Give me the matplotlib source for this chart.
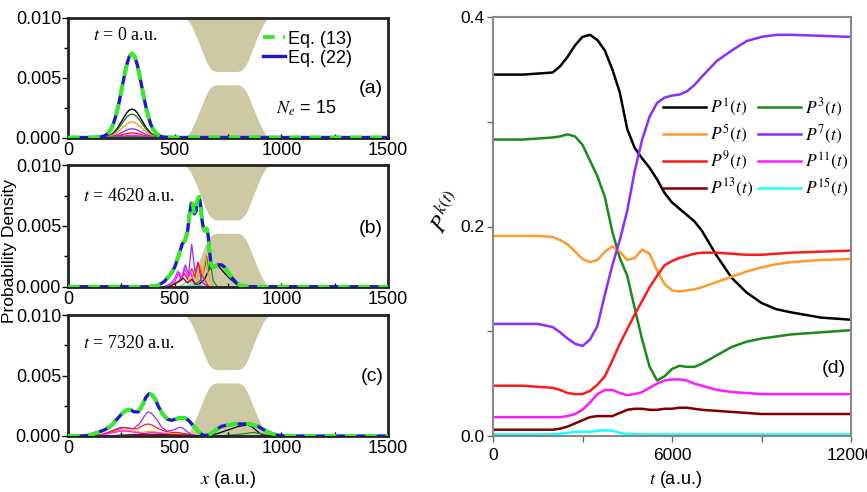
import matplotlib
matplotlib.use('Agg')
import matplotlib.pyplot as plt
from matplotlib.ticker import FixedLocator
import numpy as np

plt.rcParams['font.family'] = ['Liberation Sans', 'DejaVu Sans']
plt.rcParams['mathtext.fontset'] = 'stix'

# ---------------- data ----------------
# channel walls drawn in the density panels (distance from centre, fraction of wall)
wall_center = 745
wall_d = [0, 10, 20, 30, 40, 50, 60, 70, 80, 90, 100, 110, 120, 130, 140, 150, 160, 170, 180, 190, 200]
wall_frac = [1, 1, 1, 1, 1, 1, 0.99, 0.97, 0.93, 0.87, 0.79, 0.69, 0.59, 0.49, 0.39, 0.30, 0.21, 0.13, 0.07, 0.03, 0]
wall_top = 0.0055
wall_bot = 0.0044

# (a) t = 0 : total density and peak of each k component
a_x = [0, 120, 150, 162.5, 175, 187.5, 200, 212.5, 225, 237.5, 250, 262.5, 275, 287.5, 300,
       312.5, 325, 337.5, 350, 362.5, 375, 387.5, 400, 412.5, 425, 437.5, 450, 480, 1500]
a_y = [0, 0, 0.00004, 0.00008, 0.00018, 0.00036, 0.00066, 0.00112, 0.00185, 0.00276, 0.00388,
       0.00500, 0.00604, 0.00676, 0.00700, 0.00676, 0.00604, 0.00500, 0.00388, 0.00276, 0.00185,
       0.00112, 0.00066, 0.00036, 0.00018, 0.00008, 0.00004, 0, 0]
a_comp_peak = [0.00237, 0.00195, 0.00130, 0.00072, 0.00038, 0.00018, 0.00006, 0.00001]

# (b) t = 4620
b_x = [0, 380, 420, 450, 480, 500, 520, 535, 548, 560, 570, 578, 585, 592, 600, 608, 615, 621, 628,
       635, 642, 650, 657, 663, 670, 678, 690, 705, 720, 735, 750, 770, 790, 810, 830, 850, 1500]
b_y = [0, 0, 0.0001, 0.0004, 0.0010, 0.0016, 0.0026, 0.0035, 0.0038, 0.0045, 0.0060, 0.0069, 0.0068,
       0.0060, 0.0062, 0.0072, 0.0074, 0.0068, 0.0055, 0.0048, 0.0046, 0.0048, 0.0042, 0.0030, 0.0019,
       0.0016, 0.0017, 0.0018, 0.0018, 0.0016, 0.0012, 0.0007, 0.0003, 0.0001, 0.00003, 0, 0]
b_comp_x = [
    [600, 640, 660, 680, 700, 720, 750, 790, 830],
    [580, 620, 640, 650, 660, 668, 680, 700],
    [520, 560, 590, 605, 620, 632, 645, 655, 665, 680],
    [450, 500, 520, 535, 550, 565, 580, 595, 610, 625, 640, 660],
    [480, 520, 545, 560, 580, 595, 610, 625, 640, 660],
    [470, 500, 515, 530, 545, 560, 575, 590, 610, 630],
    [470, 520, 540, 560, 580, 600, 620],
    [500, 560, 600, 640],
]
b_comp_y = [
    [0, 0.0006, 0.0014, 0.0017, 0.0018, 0.0014, 0.0008, 0.0002, 0],
    [0, 0.0005, 0.0015, 0.0025, 0.0013, 0.0020, 0.0005, 0],
    [0, 0.0004, 0.0010, 0.0005, 0.0018, 0.0010, 0.0027, 0.0012, 0.0006, 0],
    [0, 0.0004, 0.0012, 0.0006, 0.0018, 0.0010, 0.0035, 0.0012, 0.0020, 0.0005, 0.0002, 0],
    [0, 0.0005, 0.0011, 0.0006, 0.0015, 0.0008, 0.0020, 0.0010, 0.0006, 0],
    [0, 0.0007, 0.0013, 0.0005, 0.0016, 0.0008, 0.0012, 0.0003, 0.0002, 0],
    [0, 0.0004, 0.0007, 0.0003, 0.0006, 0.0002, 0],
    [0, 0.0001, 0.0001, 0],
]

# (c) t = 7320
c_x = [0, 60, 100, 140, 170, 200, 225, 250, 270, 290, 310, 330, 350, 365, 380, 395, 410, 425, 445,
       465, 485, 505, 525, 545, 565, 585, 600, 615, 630, 645, 660, 680, 700, 720, 745, 770, 800, 825,
       850, 870, 890, 910, 930, 955, 980, 1010, 1050, 1500]
c_y = [0, 0, 0.00005, 0.0003, 0.0005, 0.0008, 0.0013, 0.0018, 0.0021, 0.0022, 0.0020, 0.0020, 0.0026,
       0.0032, 0.0035, 0.0034, 0.0030, 0.0024, 0.0018, 0.0014, 0.0013, 0.0014, 0.0015, 0.0015, 0.0013,
       0.0009, 0.0006, 0.0003, 0.0001, 0.00003, 0.0001, 0.0003, 0.0006, 0.0008, 0.0009, 0.00095,
       0.0010, 0.0010, 0.0010, 0.0009, 0.0008, 0.0006, 0.0004, 0.0002, 0.00008, 0.00002, 0, 0]
c_comp_x = [
    [650, 700, 750, 800, 840, 860, 880, 900, 930],
    [700, 780, 830, 870, 900, 930, 960],
    [125, 175, 225, 265, 305, 345, 385, 425, 475, 525, 575, 620],
    [125, 175, 215, 245, 275, 305, 335, 360, 375, 390, 415, 440, 465, 495, 520, 535, 555, 580, 610],
    [125, 175, 225, 265, 295, 325, 355, 375, 395, 425, 455, 485, 515, 545, 580, 610],
    [125, 195, 245, 275, 315, 355, 395, 445, 495, 545, 600],
    [175, 275, 375, 475, 575, 640],
    [200, 400, 600],
]
c_comp_y = [
    [0, 0.0002, 0.0005, 0.0008, 0.0009, 0.0008, 0.0005, 0.0002, 0],
    [0, 0.0001, 0.0002, 0.0003, 0.0002, 0.0001, 0],
    [0, 0.0002, 0.0004, 0.0005, 0.0004, 0.0003, 0.0004, 0.0003, 0.0002, 0.0002, 0.0001, 0],
    [0, 0.0002, 0.0005, 0.0007, 0.0007, 0.0006, 0.0010, 0.0017, 0.0020, 0.0019, 0.0014, 0.0007,
     0.0004, 0.0005, 0.0007, 0.0007, 0.0004, 0.0001, 0],
    [0, 0.0002, 0.0005, 0.0007, 0.0006, 0.0006, 0.0009, 0.0010, 0.0009, 0.0006, 0.0004, 0.0003,
     0.0003, 0.0002, 0.0001, 0],
    [0, 0.0002, 0.0004, 0.0004, 0.0003, 0.0002, 0.0003, 0.0002, 0.0001, 0.0001, 0],
    [0, 0.0001, 0.00015, 0.0001, 0.00005, 0],
    [0, 0.00003, 0],
]

# (d) occupation probabilities P^k(t)
t = [0, 1000, 1500, 2000, 2250, 2500, 2750, 3000, 3250, 3500, 3750, 4000, 4250, 4500, 4750, 5000,
     5250, 5500, 5750, 6000, 6250, 6500, 6750, 7000, 7500, 8000, 8500, 9000, 9500, 10000, 11000, 12000]
P1 = [0.345, 0.345, 0.346, 0.347, 0.353, 0.362, 0.373, 0.381, 0.383, 0.378, 0.368, 0.350, 0.328,
      0.293, 0.275, 0.265, 0.256, 0.245, 0.232, 0.223, 0.217, 0.211, 0.205, 0.196, 0.172, 0.151,
      0.137, 0.127, 0.121, 0.118, 0.113, 0.111]
P3 = [0.283, 0.283, 0.284, 0.285, 0.286, 0.288, 0.286, 0.278, 0.263, 0.248, 0.228, 0.195, 0.170,
      0.153, 0.122, 0.092, 0.066, 0.053, 0.057, 0.064, 0.067, 0.066, 0.066, 0.069, 0.077, 0.085,
      0.090, 0.093, 0.095, 0.097, 0.099, 0.101]
P5 = [0.191, 0.191, 0.191, 0.190, 0.187, 0.183, 0.176, 0.169, 0.166, 0.168, 0.176, 0.181, 0.176,
      0.168, 0.170, 0.178, 0.174, 0.158, 0.145, 0.139, 0.138, 0.139, 0.140, 0.142, 0.147, 0.152,
      0.157, 0.161, 0.164, 0.166, 0.168, 0.169]
P7 = [0.107, 0.107, 0.107, 0.104, 0.099, 0.093, 0.088, 0.086, 0.092, 0.105, 0.135, 0.163, 0.187,
      0.215, 0.253, 0.283, 0.305, 0.318, 0.323, 0.325, 0.326, 0.329, 0.335, 0.343, 0.358, 0.368,
      0.377, 0.381, 0.383, 0.383, 0.382, 0.381]
P9 = [0.048, 0.048, 0.047, 0.046, 0.044, 0.041, 0.040, 0.040, 0.043, 0.049, 0.057, 0.072, 0.088,
      0.102, 0.116, 0.129, 0.142, 0.153, 0.163, 0.167, 0.170, 0.172, 0.174, 0.175, 0.175, 0.174,
      0.173, 0.173, 0.174, 0.175, 0.176, 0.177]
P11 = [0.018, 0.018, 0.018, 0.018, 0.018, 0.019, 0.021, 0.025, 0.032, 0.040, 0.044, 0.044, 0.041,
       0.039, 0.040, 0.042, 0.046, 0.050, 0.053, 0.054, 0.054, 0.053, 0.050, 0.048, 0.044, 0.042,
       0.041, 0.040, 0.040, 0.040, 0.040, 0.040]
P13 = [0.006, 0.006, 0.006, 0.006, 0.007, 0.009, 0.012, 0.015, 0.018, 0.019, 0.019, 0.019, 0.022,
       0.025, 0.026, 0.026, 0.025, 0.025, 0.026, 0.026, 0.027, 0.027, 0.026, 0.025, 0.024, 0.023,
       0.022, 0.021, 0.021, 0.021, 0.021, 0.021]
P15 = [0.0015, 0.0015, 0.0015, 0.0016, 0.0022, 0.003, 0.004, 0.004, 0.004, 0.005, 0.0055, 0.005,
       0.003, 0.002, 0.0017, 0.0015, 0.0015, 0.0015, 0.0015, 0.0015, 0.0015, 0.0015, 0.0015, 0.0015,
       0.0015, 0.0015, 0.0015, 0.0015, 0.0015, 0.0015, 0.0015, 0.0015]
P_all = [P1, P3, P5, P7, P9, P11, P13, P15]
k_labels = ['1', '3', '5', '7', '9', '11', '13', '15']

colors = ['#000000', '#1a8a1a', '#ff9a2e', '#8c2dff', '#ff1a1a', '#ff1aff', '#800000', '#1affff']
wall_color = '#cdc9a5'

# ---------------- figure ----------------
W, H = 867, 492
fig = plt.figure(figsize=(W / 100, H / 100), dpi=100)

def px_axes(x0, y0, x1, y1):
    return fig.add_axes([x0 / W, 1 - y1 / H, (x1 - x0) / W, (y1 - y0) / H])

ax_a = px_axes(68, 17.5, 388, 137.5)
ax_b = px_axes(68, 165.3, 388, 286.7)
ax_c = px_axes(68, 315.3, 388, 436)
ax_d = px_axes(493, 17, 851, 436)

wd = np.array(wall_d, dtype=float)
wall_x = np.concatenate((wall_center - wd[::-1], wall_center + wd[1:]))
wf = np.array(wall_frac)
wall_f = np.concatenate((wf[::-1], wf[1:]))

# axes, curves, time label + its position, panel tag + its height
panels = [
    (ax_a, a_x, a_y, None, None, r'$t$ = 0 a.u.', (0.078, 0.85), '(a)', 0.41),
    (ax_b, b_x, b_y, b_comp_x, b_comp_y, r'$t$ = 4620 a.u.', (0.047, 0.74), '(b)', 0.48),
    (ax_c, c_x, c_y, c_comp_x, c_comp_y, r'$t$ = 7320 a.u.', (0.047, 0.77), '(c)', 0.49),
]

for ax, x, y, cx, cy, tlabel, tpos, plabel, py in panels:
    ax.fill_between(wall_x, wall_top + (1 - wall_f) * 0.0045, 0.011, color=wall_color, lw=0, zorder=1)
    ax.fill_between(wall_x, 0, wall_f * wall_bot, color=wall_color, lw=0, zorder=1)
    if cx is None:
        for pk, c in zip(a_comp_peak, colors):
            ax.plot(x, np.array(y) * pk / max(y), color=c, lw=1, zorder=2)
    else:
        for xx, yy, c in zip(cx, cy, colors):
            ax.plot(xx, yy, color=c, lw=0.9, zorder=2)
    l22, = ax.plot(x, y, color='#1a1acc', lw=2.4, zorder=3, label='Eq. (22)')
    l13, = ax.plot(x, y, color='#33ee22', lw=2.8, ls=(0, (3, 2.2)), zorder=4, label='Eq. (13)')
    ax.set_xlim(0, 1500)
    ax.set_ylim(0, 0.010)
    ax.xaxis.set_major_locator(FixedLocator([0, 500, 1000, 1500]))
    ax.xaxis.set_minor_locator(FixedLocator([250, 750, 1250]))
    ax.yaxis.set_major_locator(FixedLocator([0, 0.005, 0.010]))
    ax.yaxis.set_minor_locator(FixedLocator([0.0025, 0.0075]))
    ax.set_yticklabels(['0.000', '0.005', '0.010'])
    ax.tick_params(axis='y', which='both', direction='out', length=4, width=1, pad=1, labelsize=13)
    ax.tick_params(axis='y', which='minor', length=3)
    ax.tick_params(axis='x', which='both', direction='in', length=3, width=1, pad=3, labelsize=13)
    for s in ax.spines.values():
        s.set_linewidth(2)
        s.set_color('#222222')
    ax.text(tpos[0], tpos[1], tlabel, transform=ax.transAxes, fontsize=13,
            family='Liberation Serif', va='center')
    ax.text(0.985, py, plabel, transform=ax.transAxes, fontsize=14, ha='right', va='center')

ax_a.text(0.65, 0.24, r'$N_e$ = 15', transform=ax_a.transAxes, fontsize=13, va='center')
ax_a.legend(handles=[l13, l22], loc='upper left', bbox_to_anchor=(0.575, 0.98), frameon=False,
            fontsize=13, handlelength=1.2, handletextpad=0.2, labelspacing=0.1, borderpad=0.1)

fig.text(10 / W, 1 - 251 / H, 'Probability Density', rotation=90, ha='center', va='center', fontsize=12.5)
fig.text(228 / W, 1 - 480 / H, r'$x$ (a.u.)', ha='center', va='center', fontsize=13)

# ---- right panel ----
lines = []
for P, k, c in zip(P_all, k_labels, colors):
    ln, = ax_d.plot(t, P, color=c, lw=1.8, label=r'$P^{%s}(t)$' % k)
    lines.append(ln)
ax_d.set_xlim(0, 12000)
ax_d.set_ylim(0, 0.4)
ax_d.xaxis.set_major_locator(FixedLocator([0, 6000, 12000]))
ax_d.xaxis.set_minor_locator(FixedLocator([3000, 9000]))
ax_d.yaxis.set_major_locator(FixedLocator([0, 0.2, 0.4]))
ax_d.yaxis.set_minor_locator(FixedLocator([0.1, 0.3]))
ax_d.set_yticklabels(['0.0', '0.2', '0.4'])
ax_d.tick_params(which='both', direction='out', length=4, width=1, color='#666666', labelsize=12.5)
ax_d.tick_params(axis='x', pad=5)
ax_d.tick_params(axis='y', pad=2)
for s in ax_d.spines.values():
    s.set_linewidth(1.5)
    s.set_color('#888888')
ax_d.text(0.985, 0.16, '(d)', transform=ax_d.transAxes, fontsize=14, ha='right', va='center')

# legend filled row by row: (P1, P3), (P5, P7), ...
leg_order = [0, 2, 4, 6, 1, 3, 5, 7]
ax_d.legend(handles=[lines[i] for i in leg_order], loc='upper left', bbox_to_anchor=(0.445, 0.835),
            ncol=2, frameon=False, fontsize=12.5, handlelength=2.5, handletextpad=0.2,
            columnspacing=0.3, labelspacing=0.28, borderpad=0.1)

fig.text(447 / W, 1 - 212 / H, r'$P^{k}{}^{(t)}$', rotation=60, ha='center', va='center', fontsize=17)
fig.text(675 / W, 1 - 480 / H, r'$t$ (a.u.)', ha='center', va='center', fontsize=13)

fig.savefig('out.png', dpi=100)
